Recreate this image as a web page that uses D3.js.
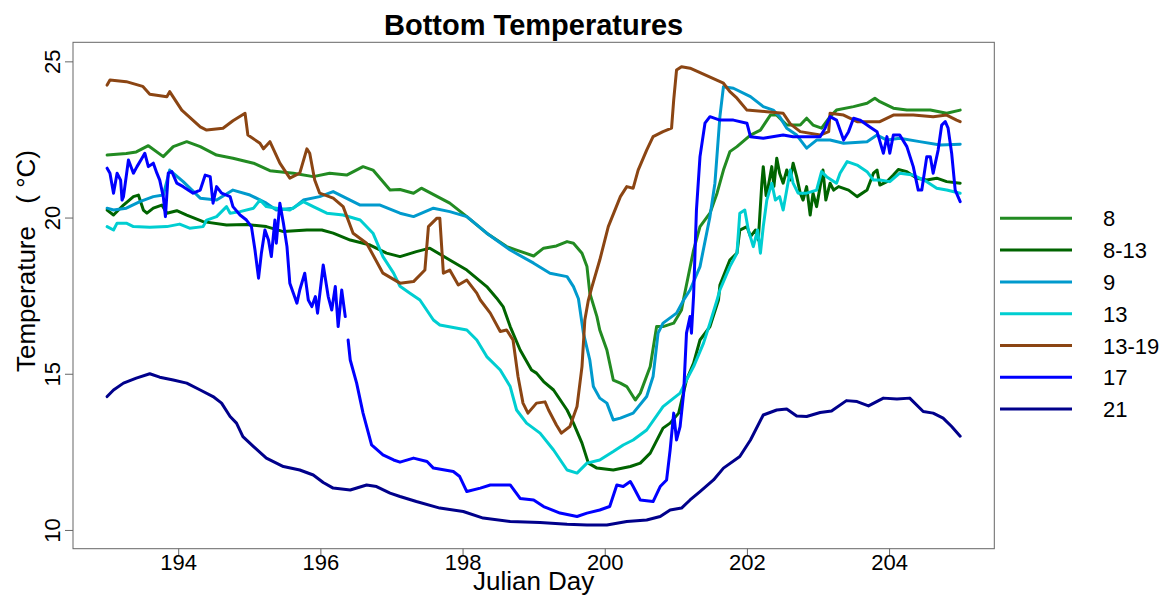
<!DOCTYPE html>
<html>
<head>
<meta charset="utf-8">
<script src="https://cdn.jsdelivr.net/npm/d3@7/dist/d3.min.js"></script>
<style>
  html, body { margin: 0; padding: 0; background: #fff; }
  svg { display: block; font-family: "Liberation Sans", Arial, sans-serif; }
</style>
</head>
<body>
<svg id="chart" width="1170" height="599"></svg>
<script>
// ---------------- DATA ----------------
const seriesNames = ["8", "8-13", "9", "13", "13-19", "17", "21"];
const seriesColors = ["#228B22", "#006400", "#009ACD", "#00CED1", "#8B4513", "#0000FF", "#00008B"];
const xTicks = [194, 196, 198, 200, 202, 204];
const yTicks = [10, 15, 20, 25];

const s8 = [
  [193.0,22.0],[193.27,22.05],[193.41,22.1],[193.58,22.3],[193.79,21.95],[193.93,22.27],[194.12,22.43],
  [194.31,22.27],[194.54,22.0],[194.77,21.9],[195.06,21.74],[195.29,21.5],[195.62,21.42],[195.90,21.31],
  [196.13,21.42],[196.37,21.36],[196.60,21.63],[196.74,21.52],[196.98,20.88],[197.12,20.9],[197.31,20.78],
  [197.42,20.94],[197.82,20.46],[198.06,20.03],[198.34,19.5],[198.62,19.07],[198.76,18.96],[199.0,18.77],
  [199.14,19.02],[199.32,19.09],[199.47,19.23],[199.56,19.18],[199.68,18.86],[199.75,18.43],[199.79,17.58],
  [199.89,16.83],[199.93,16.4],[200.03,15.76],[200.12,14.8],[200.22,14.7],[200.31,14.59],[200.43,14.16],
  [200.50,14.38],[200.64,15.23],[200.73,16.51],[200.82,16.51],[200.97,16.62],[201.08,17.04],[201.11,17.4],
  [201.25,18.96],[201.34,19.71],[201.48,20.14],[201.58,20.78],[201.67,21.52],[201.76,22.11],[201.86,22.27],
  [202.05,22.64],[202.19,22.8],[202.33,23.28],[202.42,23.28],[202.56,22.96],[202.75,22.96],[202.84,23.18],
  [202.93,22.96],[203.05,22.86],[203.17,23.23],[203.26,23.44],[203.50,23.55],[203.69,23.66],[203.80,23.82],
  [203.87,23.71],[204.06,23.5],[204.25,23.44],[204.58,23.44],[204.81,23.34],[205.0,23.44]
];

const s8_13 = [
  [193.0,20.24],[193.09,20.08],[193.23,20.4],[193.37,20.67],[193.44,20.72],[193.51,20.24],[193.56,20.14],
  [193.65,20.3],[193.77,20.4],[193.84,20.14],[193.98,20.22],[194.12,20.08],[194.35,19.87],[194.68,19.76],
  [194.96,19.78],[195.24,19.71],[195.48,19.55],[195.81,19.6],[196.02,19.6],[196.18,19.5],[196.42,19.28],
  [196.70,19.12],[196.93,18.86],[197.12,18.75],[197.35,18.91],[197.54,19.02],[197.82,18.64],[198.06,18.32],
  [198.34,17.79],[198.48,17.42],[198.57,17.15],[198.67,16.51],[198.81,15.76],[198.97,15.12],[199.04,15.02],
  [199.14,14.75],[199.28,14.48],[199.47,13.84],[199.56,13.42],[199.68,12.78],[199.77,12.14],[199.89,11.98],
  [200.12,11.92],[200.36,12.03],[200.50,12.14],[200.64,12.46],[200.82,13.26],[200.92,13.42],[201.04,13.74],
  [201.15,14.8],[201.25,15.34],[201.34,16.08],[201.48,16.51],[201.60,17.36],[201.62,17.84],[201.76,18.64],
  [201.86,18.86],[201.90,19.6],[202.0,19.71],[202.05,19.39],[202.12,19.6],[202.16,19.28],[202.21,21.1],
  [202.23,21.63],[202.27,20.7],[202.30,20.99],[202.35,21.63],[202.38,21.0],[202.42,21.9],[202.46,21.42],
  [202.51,21.1],[202.56,21.52],[202.61,21.2],[202.65,21.74],[202.70,21.31],[202.75,20.78],[202.79,20.56],
  [202.84,20.99],[202.89,20.08],[202.93,20.78],[202.98,20.35],[203.03,20.99],[203.07,21.52],[203.11,20.56],
  [203.17,21.1],[203.22,20.88],[203.29,20.99],[203.43,20.88],[203.55,20.67],[203.69,20.88],[203.78,21.42],
  [203.83,21.52],[203.87,21.04],[203.97,21.15],[204.06,21.36],[204.13,21.54],[204.25,21.47],[204.39,21.26],
  [204.53,21.2],[204.67,21.26],[204.81,21.15],[205.0,21.1]
];

const s9 = [
  [193.0,20.3],[193.09,20.24],[193.27,20.3],[193.46,20.51],[193.65,20.67],[193.79,20.72],[193.88,21.52],
  [194.07,21.15],[194.31,20.62],[194.54,20.56],[194.77,20.88],[195.01,20.72],[195.24,20.46],[195.38,20.24],
  [195.62,20.3],[195.76,20.56],[195.99,20.67],[196.18,20.83],[196.32,20.67],[196.56,20.4],[196.84,20.4],
  [197.12,20.14],[197.31,20.03],[197.59,20.3],[197.82,20.19],[198.06,20.03],[198.34,19.5],[198.67,18.96],
  [199.0,18.54],[199.23,18.22],[199.47,18.11],[199.56,17.79],[199.63,17.4],[199.70,16.3],[199.79,15.44],
  [199.84,14.59],[199.93,14.22],[200.03,14.06],[200.12,13.52],[200.22,13.58],[200.40,13.74],[200.59,14.27],
  [200.68,14.91],[200.75,16.3],[200.82,16.62],[201.01,16.94],[201.11,17.36],[201.20,17.68],[201.34,18.43],
  [201.48,20.03],[201.55,21.1],[201.62,23.23],[201.67,24.19],[201.81,24.14],[202.05,23.87],[202.23,23.55],
  [202.37,23.44],[202.46,23.23],[202.56,22.86],[202.70,22.64],[202.84,22.22],[202.98,22.48],[203.17,22.48],
  [203.36,22.38],[203.69,22.43],[203.83,22.64],[203.97,22.48],[204.15,22.54],[204.43,22.43],[204.72,22.32],
  [205.0,22.35]
];

const s13 = [
  [193.0,19.71],[193.09,19.6],[193.14,19.82],[193.27,19.82],[193.37,19.71],[193.60,19.69],[193.84,19.71],
  [194.02,19.79],[194.16,19.66],[194.35,19.71],[194.40,19.92],[194.54,20.03],[194.68,20.35],[194.73,20.14],
  [194.87,20.19],[195.06,20.3],[195.15,20.56],[195.24,20.35],[195.38,20.3],[195.57,20.24],[195.76,20.51],
  [195.90,20.35],[196.09,20.14],[196.32,20.08],[196.56,19.92],[196.74,19.5],[196.88,18.75],[197.03,18.22],
  [197.12,17.8],[197.26,17.58],[197.40,17.36],[197.59,16.72],[197.68,16.56],[198.06,16.4],[198.20,16.08],
  [198.34,15.55],[198.53,15.12],[198.67,14.59],[198.76,13.84],[198.90,13.42],[199.09,13.1],[199.28,12.56],
  [199.47,11.92],[199.61,11.82],[199.75,12.14],[199.93,12.24],[200.12,12.51],[200.26,12.72],[200.40,12.88],
  [200.59,13.2],[200.82,13.95],[200.97,14.22],[201.06,14.38],[201.15,14.8],[201.25,15.23],[201.39,15.98],
  [201.48,16.62],[201.58,17.36],[201.62,17.68],[201.76,18.43],[201.86,18.86],[201.90,20.14],[201.97,20.24],
  [202.02,19.6],[202.09,19.07],[202.15,19.6],[202.19,18.86],[202.23,19.71],[202.28,20.56],[202.35,21.1],
  [202.40,20.56],[202.46,20.67],[202.51,20.24],[202.61,21.52],[202.65,21.1],[202.72,20.78],[202.84,20.78],
  [202.98,20.88],[203.05,21.47],[203.12,21.31],[203.26,21.1],[203.31,21.42],[203.41,21.79],[203.55,21.68],
  [203.69,21.47],[203.78,21.2],[203.87,21.2],[204.01,21.15],[204.15,21.42],[204.34,21.36],[204.53,21.15],
  [204.67,20.94],[204.81,20.88],[205.0,20.78]
];

const s13_19 = [
  [193.0,24.24],[193.04,24.4],[193.27,24.35],[193.50,24.2],[193.60,23.95],[193.84,23.87],[193.88,24.03],
  [194.05,23.44],[194.31,22.9],[194.40,22.8],[194.63,22.86],[194.77,23.1],[194.94,23.34],[194.98,22.64],
  [195.15,22.38],[195.20,22.2],[195.29,22.43],[195.43,21.74],[195.57,21.26],[195.71,21.42],[195.81,22.2],
  [195.85,22.06],[195.92,21.2],[195.99,20.78],[196.18,20.62],[196.32,20.35],[196.46,19.5],[196.65,19.18],
  [196.88,18.22],[197.12,17.9],[197.31,17.95],[197.47,18.32],[197.52,19.71],[197.64,19.98],[197.68,19.98],
  [197.73,18.22],[197.82,18.32],[197.94,17.84],[198.06,18.0],[198.20,17.58],[198.25,17.36],[198.39,16.94],
  [198.53,16.35],[198.62,16.4],[198.71,16.08],[198.78,14.91],[198.85,14.06],[198.92,13.74],[199.04,14.06],
  [199.16,14.1],[199.21,13.84],[199.32,13.36],[199.39,13.1],[199.51,13.31],[199.61,13.95],[199.68,15.23],
  [199.72,16.72],[199.77,17.36],[199.82,17.78],[199.93,18.64],[200.05,19.71],[200.22,20.67],[200.31,20.99],
  [200.40,20.94],[200.47,21.52],[200.59,22.16],[200.68,22.59],[200.82,22.75],[200.94,22.86],[200.97,23.76],
  [201.01,24.72],[201.08,24.83],[201.20,24.78],[201.67,24.3],[201.76,24.03],[201.86,23.82],[202.00,23.44],
  [202.28,23.39],[202.51,23.34],[202.61,23.0],[202.75,22.75],[203.03,22.64],[203.15,22.75],[203.17,23.34],
  [203.36,23.28],[203.55,23.07],[203.87,23.07],[204.06,23.28],[204.34,23.28],[204.62,23.23],[204.81,23.28],
  [204.95,23.12],[205.0,23.07]
];

const s17 = [
  [193.0,21.58],[193.04,21.42],[193.09,20.78],[193.14,21.42],[193.19,21.2],[193.21,20.56],[193.23,20.67],
  [193.30,21.84],[193.37,21.42],[193.42,21.63],[193.49,21.9],[193.53,22.06],[193.58,21.63],[193.65,21.74],
  [193.70,21.42],[193.74,21.2],[193.79,20.67],[193.82,20.03],[193.86,21.42],[193.91,21.47],[193.98,21.1],
  [194.07,20.99],[194.21,20.78],[194.31,20.88],[194.38,21.36],[194.45,21.31],[194.49,20.46],[194.54,20.99],
  [194.61,20.78],[194.73,20.67],[194.77,20.35],[194.87,20.08],[194.96,19.92],[195.03,19.71],[195.08,18.96],
  [195.13,18.06],[195.17,18.86],[195.22,19.6],[195.27,19.28],[195.31,18.75],[195.36,19.92],[195.38,19.18],
  [195.43,20.46],[195.48,19.82],[195.53,19.07],[195.57,17.9],[195.62,17.58],[195.67,17.26],[195.71,17.68],
  [195.78,18.22],[195.83,17.36],[195.88,17.15],[195.93,17.47],[195.96,16.94],[196.04,18.48],[196.11,17.47],
  [196.16,17.04],[196.21,17.79],[196.25,16.51],[196.30,17.68],[196.35,16.83],
  [196.37,null],
  [196.39,16.08],[196.42,15.44],[196.51,14.7],[196.60,13.74],[196.72,12.72],[196.88,12.4],[197.03,12.24],
  [197.12,12.17],[197.31,12.3],[197.50,12.19],[197.59,11.98],[197.87,11.87],[197.96,11.71],[198.06,11.23],
  [198.25,11.34],[198.39,11.44],[198.67,11.44],[198.81,11.01],[199.0,10.96],[199.14,10.75],[199.37,10.54],
  [199.61,10.43],[199.75,10.54],[199.93,10.64],[200.07,10.75],[200.17,11.44],[200.26,11.39],[200.36,11.55],
  [200.40,11.39],[200.50,10.96],[200.68,10.91],[200.78,11.39],[200.87,11.6],[200.92,12.56],[200.97,13.74],
  [201.01,12.88],[201.06,13.31],[201.11,14.38],[201.15,16.3],[201.20,16.83],[201.22,16.3],[201.25,17.5],
  [201.29,20.24],[201.34,21.95],[201.41,23.02],[201.48,23.23],[201.62,23.12],[201.81,23.12],[202.00,23.02],
  [202.05,22.59],[202.23,22.54],[202.51,22.64],[202.65,22.59],[203.03,22.59],[203.10,22.86],[203.17,23.23],
  [203.26,23.12],[203.36,22.48],[203.43,22.75],[203.50,23.18],[203.59,23.12],[203.73,22.9],[203.83,22.75],
  [203.92,22.06],[203.97,22.59],[204.01,22.06],[204.06,22.64],[204.15,22.64],[204.25,22.27],[204.34,21.63],
  [204.41,20.88],[204.46,20.88],[204.53,21.95],[204.58,21.95],[204.62,21.42],[204.69,22.16],[204.74,22.96],
  [204.79,23.07],[204.83,22.86],[204.88,22.06],[204.93,20.88],[205.0,20.51]
];

const s21 = [
  [193.0,14.27],[193.09,14.48],[193.23,14.7],[193.41,14.86],[193.60,15.0],[193.74,14.89],[193.93,14.8],
  [194.12,14.7],[194.31,14.48],[194.49,14.27],[194.61,14.06],[194.73,13.63],[194.82,13.42],[194.91,12.99],
  [195.06,12.67],[195.24,12.3],[195.48,12.03],[195.71,11.92],[195.90,11.76],[196.04,11.52],[196.18,11.34],
  [196.42,11.28],[196.65,11.44],[196.79,11.39],[196.98,11.18],[197.12,11.07],[197.35,10.91],[197.68,10.7],
  [198.01,10.59],[198.29,10.38],[198.67,10.27],[199.09,10.24],[199.47,10.18],[199.75,10.16],[200.03,10.16],
  [200.31,10.27],[200.59,10.32],[200.78,10.43],[200.92,10.64],[201.08,10.7],[201.20,10.96],[201.34,11.23],
  [201.53,11.6],[201.67,11.98],[201.90,12.35],[202.05,12.88],[202.23,13.68],[202.42,13.84],[202.56,13.87],
  [202.70,13.65],[202.84,13.63],[203.03,13.76],[203.19,13.81],[203.40,14.14],[203.55,14.11],[203.71,13.97],
  [203.92,14.22],[204.11,14.19],[204.29,14.22],[204.48,13.79],[204.62,13.74],[204.76,13.58],[204.88,13.31],
  [205.0,13.0]
];

const seriesData = [s8, s8_13, s9, s13, s13_19, s17, s21];

// ---------------- LAYOUT ----------------
const plot = { left: 73, top: 42.3, right: 994.3, bottom: 548.7 };
const svg = d3.select("#chart");

const x = d3.scaleLinear().domain([192.52, 205.48]).range([plot.left, plot.right]);
const y = d3.scaleLinear().domain([9.40, 25.61]).range([plot.bottom, plot.top]);

// lines
const line = d3.line()
  .defined(d => d[1] != null)
  .x(d => x(d[0]))
  .y(d => y(d[1]));

const g = svg.append("g");
seriesData.forEach((data, i) => {
  g.append("path")
    .datum(data)
    .attr("fill", "none")
    .attr("stroke", seriesColors[i])
    .attr("stroke-width", 3)
    .attr("stroke-linejoin", "round")
    .attr("stroke-linecap", "round")
    .attr("d", line);
});

// box
svg.append("rect")
  .attr("x", plot.left).attr("y", plot.top)
  .attr("width", plot.right - plot.left).attr("height", plot.bottom - plot.top)
  .attr("fill", "none").attr("stroke", "#666").attr("stroke-width", 1);

// x axis
const xAxis = svg.append("g")
  .attr("transform", `translate(0,${plot.bottom})`)
  .call(d3.axisBottom(x).tickValues(xTicks).tickSize(7).tickFormat(d3.format("d")));
xAxis.select(".domain").remove();
xAxis.selectAll(".tick line").attr("stroke", "#666");
xAxis.selectAll(".tick text")
  .attr("y", 21.3).attr("dy", 0)
  .attr("fill", "#000")
  .style("font-size", "22px")
  .style("font-family", "'Liberation Sans', Arial, sans-serif");

// y axis
const yAxis = svg.append("g")
  .attr("transform", `translate(${plot.left},0)`)
  .call(d3.axisLeft(y).tickValues(yTicks).tickSize(8).tickFormat(d3.format("d")));
yAxis.select(".domain").remove();
yAxis.selectAll(".tick line").attr("stroke", "#666");
yAxis.selectAll(".tick text")
  .attr("x", 0).attr("dy", 0)
  .attr("text-anchor", "middle")
  .attr("transform", "translate(-13,0) rotate(-90)")
  .attr("fill", "#000")
  .style("font-size", "22px")
  .style("font-family", "'Liberation Sans', Arial, sans-serif");

// title
svg.append("text")
  .attr("x", (plot.left + plot.right) / 2).attr("y", 35)
  .attr("text-anchor", "middle")
  .style("font-size", "29px").style("font-weight", "bold")
  .text("Bottom Temperatures");

// axis titles
svg.append("text")
  .attr("x", (plot.left + plot.right) / 2).attr("y", 590)
  .attr("text-anchor", "middle")
  .style("font-size", "26px")
  .text("Julian Day");

svg.append("text")
  .attr("transform", "translate(35,372) rotate(-90)")
  .attr("text-anchor", "start")
  .style("font-size", "26px")
  .text("Temperature");
svg.append("text")
  .attr("transform", "translate(35,150) rotate(-90)")
  .attr("text-anchor", "end")
  .style("font-size", "26px")
  .text("( \u00B0C)");

// legend
const legend = svg.append("g");
seriesNames.forEach((name, i) => {
  const ly = 218.3 + i * 31.8;
  legend.append("line")
    .attr("x1", 1000).attr("x2", 1072)
    .attr("y1", ly).attr("y2", ly)
    .attr("stroke", seriesColors[i]).attr("stroke-width", 3);
  legend.append("text")
    .attr("x", 1103).attr("y", ly + 8)
    .style("font-size", "22px")
    .text(name);
});
</script>
</body>
</html>
